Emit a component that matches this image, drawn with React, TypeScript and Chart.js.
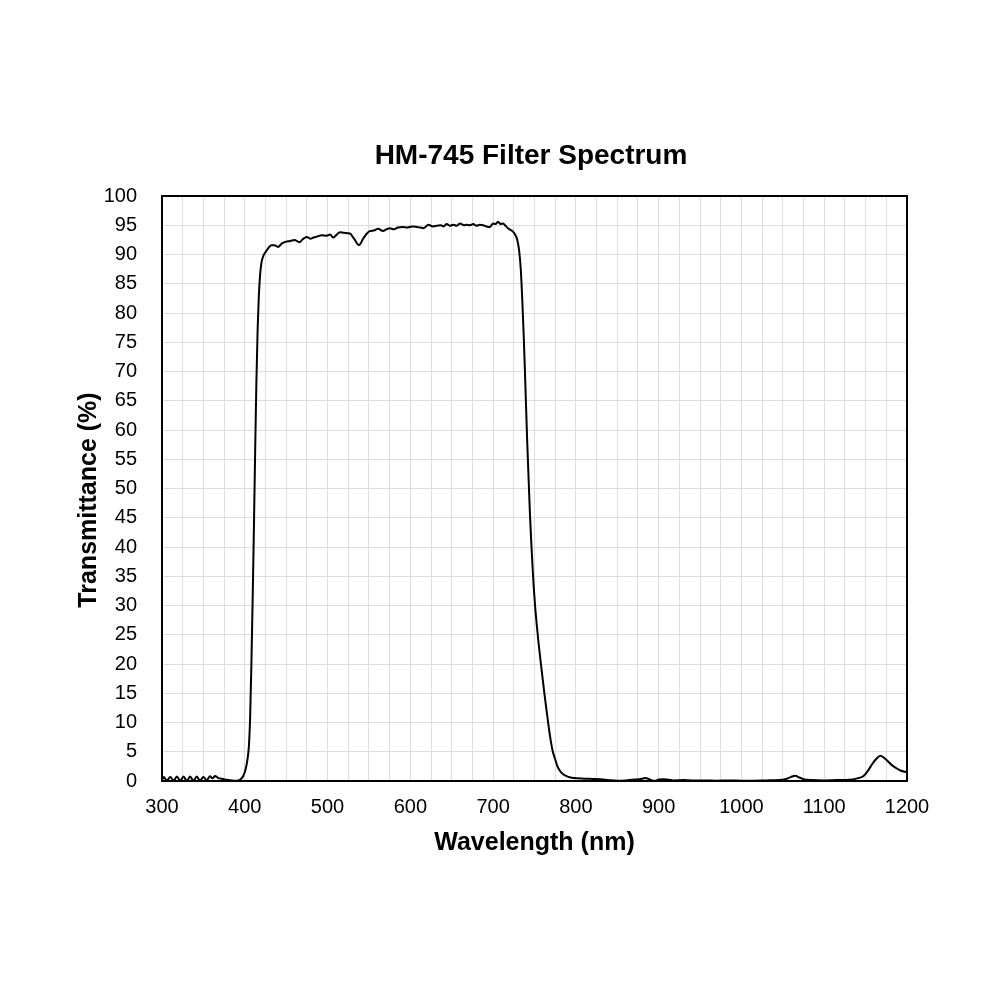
import { Chart, registerables } from 'chart.js'
import { useEffect, useRef } from 'react'

Chart.register(...registerables)

// wavelength (nm) and transmittance (%)
const wavelengths = [
  300, 302, 306, 310, 314, 318, 322, 326, 330, 334, 338, 342, 346, 350, 354, 358, 361, 364, 368, 372,
  378, 384, 390, 395, 398, 401, 403, 405, 406.5, 408, 409.5, 411, 412.5, 414, 415.5, 417, 418.5, 420,
  422, 425, 428, 432, 436, 440, 445, 450, 455, 460, 466, 470, 475, 479, 483, 488, 493, 499, 503, 507,
  511, 515, 520, 527, 532, 538, 543, 547, 551, 556, 561, 567, 571, 575, 580, 585, 591, 596, 602, 608,
  612, 616, 622, 627, 632, 637, 640, 644, 648, 652, 656, 660, 665, 668, 672, 676, 680, 684, 688, 692,
  696, 700, 703, 706, 709, 712, 715, 718, 721, 724, 727, 729, 731.5, 733.5, 735.3, 737, 738.5, 740,
  741.3, 743, 744.6, 746.2, 747.8, 749.2, 750.6, 752.6, 754.6, 757, 759.5, 762, 764.8, 767.2, 769.6,
  772, 774.8, 777.5, 780.9, 785, 790, 795, 801, 810,
  820, 830, 840, 850, 860, 870, 877, 884, 888, 892, 896, 900, 906, 912, 918, 930, 940, 955, 970, 985,
  1000, 1015, 1030, 1045, 1054, 1060, 1065, 1070, 1076, 1085, 1100, 1115, 1130, 1140, 1147, 1153, 1158,
  1163, 1168, 1172, 1176, 1181, 1186, 1192, 1200,
]

const transmittance = [
  0.1, 0.7, 0.05, 0.7, 0.05, 0.75, 0.05, 0.75, 0.05, 0.75, 0.05, 0.75, 0.05, 0.7, 0.15, 0.8, 0.45, 0.85, 0.5, 0.4,
  0.2, 0.1, 0.05, 0.3, 0.8, 2, 3.5, 6, 11, 20, 31, 43, 56, 68, 77, 83, 86.5, 88.5,
  89.6, 90.4, 91.0, 91.6, 91.6, 91.3, 91.9, 92.2, 92.3, 92.5, 92.1, 92.6, 93.0, 92.7, 92.9, 93.1, 93.3, 93.2, 93.4, 92.9,
  93.4, 93.8, 93.7, 93.6, 92.7, 91.6, 92.7, 93.5, 94.0, 94.1, 94.4, 94.0, 94.3, 94.5, 94.3, 94.6, 94.7, 94.6, 94.8, 94.7,
  94.6, 94.5, 95.1, 94.8, 94.9, 95.0, 94.8, 95.2, 94.9, 95.1, 94.9, 95.3, 95.0, 95.1, 95.0, 95.2, 94.9, 95.1, 95.0, 94.8,
  94.7, 95.3, 95.2, 95.6, 95.2, 95.3, 94.9, 94.5, 94.2, 93.9, 93.3, 92.6, 90.6, 87.3, 82.0, 76.0, 69.8, 63.2,
  57.6, 51.2, 45.3, 40.5, 36.2, 32.9, 30.1, 26.9, 24.0, 20.9, 17.9, 14.9, 11.8, 9.2, 6.9,
  5.1, 3.8, 2.6, 1.7, 1.1, 0.75, 0.55, 0.45, 0.4,
  0.35, 0.3, 0.15, 0.05, 0.1, 0.25, 0.3, 0.5, 0.35, 0.1, 0.05, 0.25, 0.3, 0.2, 0.1, 0.15, 0.1, 0.1, 0.05, 0.1,
  0.05, 0.05, 0.1, 0.15, 0.35, 0.7, 0.9, 0.6, 0.25, 0.15, 0.1, 0.15, 0.2, 0.45, 0.8, 1.8, 2.9,
  3.8, 4.3, 4.0, 3.5, 2.8, 2.3, 1.8, 1.5,
]

const chartTitle = 'HM-745 Filter Spectrum'
const xTitle = 'Wavelength (nm)'
const yTitle = 'Transmittance (%)'

const FONT = '"Liberation Sans", Arial, Helvetica, sans-serif'

// black frame round the plot area, plus the chart title and y title placed like the original
const decorations = {
  id: 'decorations',
  afterDraw(chart: any) {
    const { ctx, chartArea } = chart
    ctx.save()
    ctx.strokeStyle = '#000'
    ctx.lineWidth = 2
    ctx.strokeRect(chartArea.left, chartArea.top, chartArea.right - chartArea.left, chartArea.bottom - chartArea.top)

    ctx.fillStyle = '#000'
    ctx.textAlign = 'center'
    ctx.textBaseline = 'middle'
    ctx.font = `bold 28px ${FONT}`
    ctx.fillText(chartTitle, 531, 156)

    ctx.font = `bold 25px ${FONT}`
    ctx.translate(89, 500)
    ctx.rotate(-Math.PI / 2)
    ctx.fillText(yTitle, 0, 0)
    ctx.restore()
  },
}

export default function App() {
  const chartRef = useRef(null)
  const chartInstance = useRef(null)

  useEffect(() => {
    if (chartInstance.current) {
      ;(chartInstance.current as any).destroy()
    }
    const ctx = (chartRef.current as any).getContext('2d')

    ;(chartInstance.current as any) = new Chart(ctx, {
      type: 'line',
      data: {
        datasets: [
          {
            data: wavelengths.map((w, i) => ({ x: w, y: transmittance[i] })),
            borderColor: '#000',
            borderWidth: 2,
            pointRadius: 0,
            cubicInterpolationMode: 'monotone',
            fill: false,
          },
        ],
      },
      options: {
        animation: false,
        responsive: true,
        maintainAspectRatio: false,
        layout: {
          padding: { left: 72, right: 93, top: 196, bottom: 142 },
        },
        scales: {
          x: {
            type: 'linear',
            min: 300,
            max: 1200,
            afterFit: (scale: any) => {
              scale.height = 77
            },
            border: { display: false },
            grid: { color: '#dddddd', lineWidth: 1, drawTicks: false },
            ticks: {
              stepSize: 25,
              autoSkip: false,
              maxRotation: 0,
              padding: 14,
              color: '#000',
              font: { size: 20, family: FONT },
              callback: (v: any) => (v % 100 === 0 ? String(v) : ''),
            },
            title: {
              display: true,
              text: xTitle,
              color: '#000',
              padding: 0,
              font: { size: 25, weight: 'bold', family: FONT },
            },
          },
          y: {
            min: 0,
            max: 100,
            afterFit: (scale: any) => {
              scale.width = 90
            },
            border: { display: false },
            grid: { color: '#dddddd', lineWidth: 1, drawTicks: false },
            ticks: {
              stepSize: 5,
              autoSkip: false,
              padding: 25,
              color: '#000',
              font: { size: 20, family: FONT },
            },
          },
        },
        plugins: {
          legend: { display: false },
          tooltip: { enabled: false },
          title: { display: false },
        },
      },
      plugins: [decorations],
    } as any)

    return () => {
      if (chartInstance.current) {
        ;(chartInstance.current as any).destroy()
        chartInstance.current = null
      }
    }
  }, [])

  return (
    <div style={{ position: 'absolute', left: 0, top: 0, width: 1000, height: 1000, background: '#fff' }}>
      <canvas ref={chartRef} />
    </div>
  )
}
